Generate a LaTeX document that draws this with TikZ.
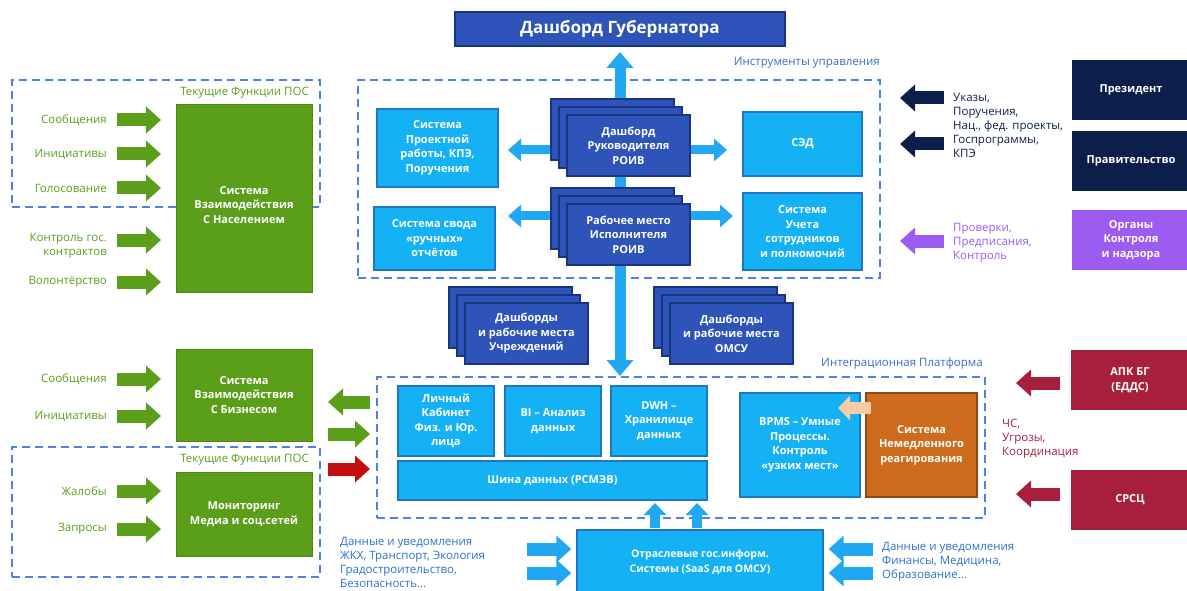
\documentclass[tikz,border=0pt]{standalone}
\usepackage{fontspec}
\setmainfont{Open Sans}
\usetikzlibrary{arrows.meta,shadows}
\definecolor{dblue}{HTML}{2F54B9}
\definecolor{dblueD}{HTML}{1A3580}
\definecolor{lblue}{HTML}{14B2F5}
\definecolor{lblueD}{HTML}{1C78C2}
\definecolor{cyanA}{HTML}{22A8F2}
\definecolor{dashc}{HTML}{4D80EA}
\definecolor{blueT}{HTML}{3A6CC0}
\definecolor{gr}{HTML}{5A9E1A}
\definecolor{navy}{HTML}{0C1F4B}
\definecolor{purp}{HTML}{9C5BF1}
\definecolor{crim}{HTML}{A81F3B}
\definecolor{redA}{HTML}{C20E0E}
\definecolor{orng}{HTML}{CC6C1C}
\definecolor{orngD}{HTML}{8E4A12}
\definecolor{peach}{HTML}{F6CBA6}
\definecolor{bottT}{HTML}{2A72C8}
\begin{document}
\begin{tikzpicture}[x=1pt,y=-1pt,
  box/.style={draw, line width=1.4pt, align=center, inner sep=2pt, text=white,
    font=\bfseries\fontsize{11}{14.5}\selectfont},
  lbox/.style={box, fill=lblue, draw=lblueD},
  dbox/.style={box, fill=dblue, draw=dblueD},
  stk/.style={dbox, minimum width=123, minimum height=61,
    double copy shadow={shadow xshift=-8pt, shadow yshift=8pt}},
  gbox/.style={box, fill=gr, draw=gr!85!black, line width=0.6pt},
  fbox/.style={box, line width=0pt, draw=none},
  dashbox/.style={draw=dashc, line width=2pt, dash pattern=on 8pt off 5pt, inner sep=0pt},
  lab/.style={font=\fontsize{11.5}{14}\selectfont, inner sep=0pt},
  glab/.style={lab, text=gr, align=right, anchor=east},
  ttl/.style={lab, text=blueT, anchor=east, font=\fontsize{11.5}{13}\selectfont},
  sarr/.style={draw=#1, line width=13pt, -{Triangle[length=15pt,width=26pt]}},
  carr/.style={draw=cyanA, line width=9pt, -{Triangle[length=13pt,width=22pt]}},
  uarr/.style={draw=cyanA, line width=10pt, -{Triangle[length=12pt,width=22pt]}},
  barr/.style={draw=cyanA, line width=11pt, {Triangle[length=16pt,width=26pt]}-{Triangle[length=16pt,width=26pt]}}
]
\useasboundingbox (0,0) rectangle (1187,591);

% dashed regions
\node[dashbox, minimum width=522, minimum height=198] (instr) at (619,179) {};
\node[dashbox, minimum width=608, minimum height=141] (platf) at (681,447.5) {};
\node[dashbox, minimum width=308, minimum height=127] (pos1) at (166,143.5) {};
\node[dashbox, minimum width=308, minimum height=130] (pos2) at (166,512) {};
\node[ttl] (tinstr) at (880,63) {Инструменты управления};
\node[ttl] (tplatf) at (983,364) {Интеграционная Платформа};
\node[ttl, text=gr] (tpos1) at (309,93) {Текущие Функции ПОС};
\node[ttl, text=gr] (tpos2) at (309,460) {Текущие Функции ПОС};

% governor
\node[dbox, minimum width=330, minimum height=34, font=\bfseries\fontsize{17}{20}\selectfont] (gov) at (620,29) {Дашборд Губернатора};

% central bar
\coordinate (bartop) at (620,52);
\coordinate (barbot) at (620,376);
\draw[barr] (bartop) -- (barbot);

% stacks positions and side arrows
\coordinate (rukc) at (628.5,145.5);
\coordinate (rabc) at (628.5,234.5);
\coordinate (rukL) at (508,150);
\coordinate (rukR) at (727,150);
\coordinate (rabL) at (508,216);
\coordinate (rabR) at (733,216);
\draw[carr] (rukc |- rukL) -- (rukL);
\draw[carr] (rukc |- rukR) -- (rukR);
\draw[carr] (rabc |- rabL) -- (rabL);
\draw[carr] (rabc |- rabR) -- (rabR);

\node[stk] (ruk) at (rukc) {Дашборд\\Руководителя\\РОИВ};
\node[stk] (rab) at (rabc) {Рабочее место\\Исполнителя\\РОИВ};
\node[stk] (uchr) at (526.5,333.5) {Дашборды\\и рабочие места\\Учреждений};
\node[stk] (omsu) at (731.5,333.5) {Дашборды\\и рабочие места\\ОМСУ};

% instruments boxes
\node[lbox, minimum width=121, minimum height=78] (proj) at (437.5,148) {Система\\Проектной\\работы, КПЭ,\\Поручения};
\node[lbox, minimum width=121, minimum height=63] (svod) at (434.5,238.5) {Система свода\\«ручных»\\отчётов};
\node[lbox, minimum width=119, minimum height=64] (sed) at (802.5,144) {СЭД};
\node[lbox, minimum width=119, minimum height=77] (uchet) at (802.5,231.5) {Система\\Учета\\сотрудников\\и полномочий};

% integration platform
\node[lbox, minimum width=96, minimum height=70] (lk) at (446,421) {Личный\\Кабинет\\Физ. и Юр.\\лица};
\node[lbox, minimum width=96, minimum height=70] (bi) at (553,421) {BI – Анализ\\данных};
\node[lbox, minimum width=96, minimum height=70] (dwh) at (659,421) {DWH –\\Хранилище\\данных};
\node[lbox, minimum width=309, minimum height=39] (shina) at (552.5,480.5) {Шина данных (РСМЭВ)};
\node[lbox, minimum width=120, minimum height=104] (bpms) at (800,445) {BPMS – Умные\\Процессы.\\Контроль\\«узких мест»};
\node[box, fill=orng, draw=orngD, minimum width=111, minimum height=104] (nemed) at (921.5,445) {Система\\Немедленного\\реагирования};
\coordinate (peachtip) at (838,408);
\draw[draw=peach, line width=12pt, -{Triangle[length=12pt,width=24pt]}] (nemed.west |- peachtip) ++(6,0) -- (peachtip);

% bottom
\node[lbox, minimum width=246, minimum height=64, font=\bfseries\fontsize{10.5}{14.5}\selectfont] (otr) at (700,562) {Отраслевые гос.информ.\\Системы (SaaS для ОМСУ)};
\coordinate (up1) at (655,503);
\coordinate (up2) at (697,503);
\draw[uarr] (up1 |- otr.north) ++(0,-1) -- (up1);
\draw[uarr] (up2 |- otr.north) ++(0,-1) -- (up2);
\coordinate (bl1) at (527,549);
\coordinate (bl2) at (527,573);
\coordinate (br1) at (873,549);
\coordinate (br2) at (873,573);
\draw[sarr=cyanA] (bl1) -- ([xshift=-5pt]bl1 -| otr.west);
\draw[sarr=cyanA] (bl2) -- ([xshift=-5pt]bl2 -| otr.west);
\draw[sarr=cyanA] (br1) -- ([xshift=5pt]br1 -| otr.east);
\draw[sarr=cyanA] (br2) -- ([xshift=5pt]br2 -| otr.east);
\node[lab, text=bottT, align=left, anchor=west] (tbl) at (340,562) {Данные и уведомления\\ЖКХ, Транспорт, Экология\\Градостроительство,\\Безопасность…};
\node[lab, text=bottT, align=left, anchor=west] (tbr) at (882,562) {Данные и уведомления\\Финансы, Медицина,\\Образование…};

% left green systems
\node[gbox, minimum width=136, minimum height=188] (nasel) at (244,198) {};
\node[box, draw=none, line width=0pt] (naseltxt) at ([yshift=-7pt]nasel.center) {Система\\Взаимодействия\\С Населением};
\node[gbox, minimum width=136, minimum height=92] (biz) at (244,395) {Система\\Взаимодействия\\С Бизнесом};
\node[gbox, minimum width=136, minimum height=84] (media) at (244,514) {Мониторинг\\Медиа и соц.сетей};

\foreach \n/\y/\t in {a/120/Сообщения, b/154/Инициативы, c/188/Голосование, e/282/Волонтёрство, f/379/Сообщения, g/416/Инициативы, h/491/Жалобы, i/529/Запросы}{
  \node[glab] (l\n) at (107,\y) {\t};
  \coordinate (s\n) at (117,\y);
  \draw[sarr=gr] (s\n) -- ++(44,0);
}
\node[glab] (ld) at (107,245.5) {Контроль гос.\\контрактов};
\coordinate (sd) at (117,240);
\draw[sarr=gr] (sd) -- ++(44,0);

% links left <-> platform
\coordinate (m1) at (370,402);
\coordinate (m2) at (328,434);
\coordinate (m3) at (328,469);
\draw[sarr=gr] (m1) -- (m1 -| m2);
\draw[sarr=gr] (m2) -- (m2 -| m1);
\draw[sarr=redA] (m3) -- (m3 -| m1);

% right side
\node[fbox, fill=navy, minimum width=118, minimum height=60] (pres) at (1131,90) {Президент};
\node[fbox, fill=navy, minimum width=118, minimum height=60] (prav) at (1131,161) {Правительство};
\node[fbox, fill=purp, minimum width=118, minimum height=60] (organ) at (1131,240) {Органы\\Контроля\\и надзора};
\node[fbox, fill=crim, minimum width=118, minimum height=60] (apk) at (1130,380) {АПК БГ\\(ЕДДС)};
\node[fbox, fill=crim, minimum width=118, minimum height=60] (srsc) at (1130,500) {СРСЦ};

\coordinate (n1) at (944,98);
\coordinate (n2) at (944,144);
\coordinate (p1) at (944,241);
\coordinate (c1) at (1060,383);
\coordinate (c2) at (1060,494);
\draw[sarr=navy] (n1) -- ++(-44,0);
\draw[sarr=navy] (n2) -- ++(-44,0);
\draw[sarr=purp] (p1) -- ++(-44,0);
\draw[sarr=crim] (c1) -- ++(-44,0);
\draw[sarr=crim] (c2) -- ++(-44,0);
\node[lab, text=navy, align=left, anchor=west] (tn) at (953,125.5) {Указы,\\Поручения,\\Нац., фед. проекты,\\Госпрограммы,\\КПЭ};
\node[lab, text=purp, align=left, anchor=west] (tp) at (953,243) {Проверки,\\Предписания,\\Контроль};
\node[lab, text=crim, align=left, anchor=west] (tc) at (1002,439) {ЧС,\\Угрозы,\\Координация};
\end{tikzpicture}
\end{document}
